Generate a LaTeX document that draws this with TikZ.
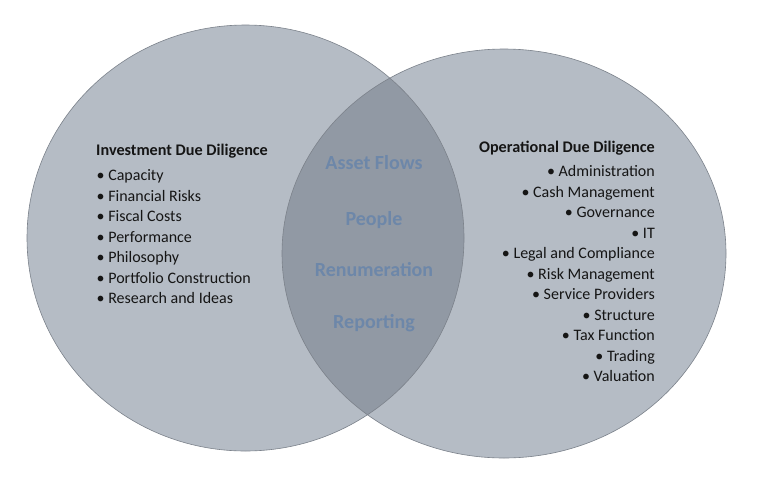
\documentclass[tikz,border=0pt]{standalone}
\usepackage{fontspec}
\setmainfont{Carlito}
\usetikzlibrary{positioning}
\definecolor{DDfill}{HTML}{B5BCC5}
\definecolor{DDover}{HTML}{9199A4}
\definecolor{DDedge}{HTML}{7C828B}
\definecolor{DDblue}{HTML}{6D87A9}
\definecolor{DDtext}{HTML}{151515}

\begin{document}
\begin{tikzpicture}[x=1pt,y=-1pt,
  headtext/.style={inner sep=0pt,font=\fontsize{16.2}{18}\selectfont\bfseries,text=DDtext},
  itemtext/.style={inner sep=0pt,font=\fontsize{16}{18}\selectfont,text=DDtext},
  sharedtext/.style={inner sep=0pt,font=\fontsize{20}{22}\selectfont\bfseries,text=DDblue,anchor=base}]
\useasboundingbox (0,0) rectangle (759,485);
\fill[white] (0,0) rectangle (759,485);
% the two circles
\fill[DDfill] (245.5,238) ellipse [x radius=218.5pt,y radius=213pt];
\fill[DDfill] (504,253.5) ellipse [x radius=222pt,y radius=204.5pt];
\begin{scope}
\clip (245.5,238) ellipse [x radius=218.5pt,y radius=213pt];
\fill[DDover] (504,253.5) ellipse [x radius=222pt,y radius=204.5pt];
\end{scope}
\draw[DDedge,line width=0.6pt] (245.5,238) ellipse [x radius=218.5pt,y radius=213pt];
\draw[DDedge,line width=0.6pt] (504,253.5) ellipse [x radius=222pt,y radius=204.5pt];
% investment list
\node[headtext,anchor=base west] (invhead) at (96,155.5) {Investment Due Diligence};
\foreach \t [count=\i] in {Capacity,Financial Risks,Fiscal Costs,Performance,Philosophy,Portfolio Construction,Research and Ideas}{
\node[itemtext,anchor=base west] (inv\i) at (96.5,160+20.5*\i) {\textbullet\ \t};
}
% operational list
\node[headtext,anchor=base east] (ophead) at (655,152) {Operational Due Diligence};
\foreach \t [count=\i] in {Administration,Cash Management,Governance,IT,Legal and Compliance,Risk Management,Service Providers,Structure,Tax Function,Trading,Valuation}{
\node[itemtext,anchor=base east] (op\i) at (655,156+20.5*\i) {\textbullet\ \t};
}
% shared topics
\node[sharedtext] (flows) at (374,169.5) {Asset Flows};
\node[sharedtext] (people) at (374,225.5) {People};
\node[sharedtext] (renum) at (374,276.5) {Renumeration};
\node[sharedtext] (report) at (374,328.5) {Reporting};
\end{tikzpicture}
\end{document}
